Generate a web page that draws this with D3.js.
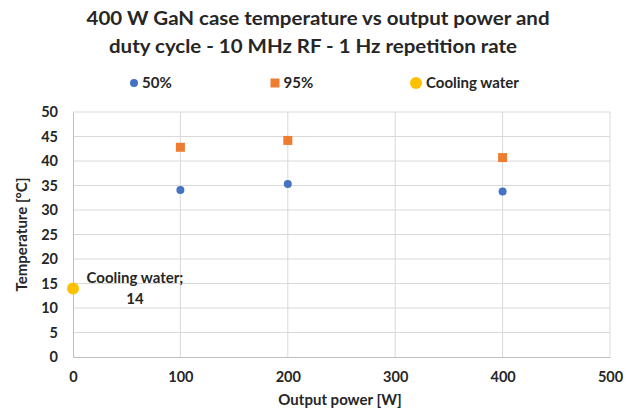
<!DOCTYPE html>
<html>
<head>
<meta charset="utf-8">
<script src="https://cdn.jsdelivr.net/npm/d3@7"></script>
<style>
  body { margin: 0; background: #fff; }
  svg text { font-family: Lato, "Open Sans", sans-serif; fill: #262626; }
</style>
</head>
<body>
<div id="chart"></div>
<script>
// data
const power = [100, 200, 400];
const duty50 = [34.1, 35.3, 33.8];
const duty95 = [42.8, 44.2, 40.7];
const coolingPower = [0];
const coolingTemp = [14];
const xTicks = [0, 100, 200, 300, 400, 500];
const yTicks = [0, 5, 10, 15, 20, 25, 30, 35, 40, 45, 50];
const titleLines = ['400 W GaN case temperature vs output power and',
	'duty cycle - 10 MHz RF - 1 Hz repetition rate'];
const titleWidths = [463, 408];

const width = 632, height = 411;
const margin = {t:112, r:22, b:54, l:73};
const w = width - margin.l - margin.r;
const h = height - margin.t - margin.b;

const svg = d3.select('#chart').append('svg')
	.attr('width', width)
	.attr('height', height);

// title
svg.selectAll('.title')
	.data(titleLines)
	.enter().append('text')
	.attr('class', 'title')
	.attr('x', (d,i) => i ? 313 : 318)
	.attr('y', (d,i) => 25 + i*28)
	.attr('text-anchor', 'middle')
	.attr('textLength', (d,i) => titleWidths[i])
	.attr('lengthAdjust', 'spacingAndGlyphs')
	.style('font-size', '19px')
	.style('font-weight', 'bold')
	.text(d => d);

const scaleX = d3.scaleLinear().domain([0,500]).range([0,w]);
const scaleY = d3.scaleLinear().domain([0,50]).range([h,0]);

const plot = svg.append('g')
	.attr('transform', `translate(${margin.l},${margin.t})`);

// grid
plot.selectAll('.gy')
	.data(yTicks.slice(1))
	.enter().append('line')
	.attr('x1', 0).attr('x2', w)
	.attr('y1', d => scaleY(d)).attr('y2', d => scaleY(d))
	.style('stroke', '#d9d9d9');
plot.selectAll('.gx')
	.data(xTicks.slice(1))
	.enter().append('line')
	.attr('y1', 0).attr('y2', h)
	.attr('x1', d => scaleX(d)).attr('x2', d => scaleX(d))
	.style('stroke', '#d9d9d9');

// axes
const axisX = d3.axisBottom(scaleX).tickValues(xTicks).tickSize(0).tickPadding(15);
const axisY = d3.axisLeft(scaleY).tickValues(yTicks).tickSize(0).tickPadding(15);

const gx = plot.append('g').attr('transform', `translate(0,${h})`).call(axisX);
const gy = plot.append('g').call(axisY);
gx.select('.domain').style('stroke', '#bfbfbf');
gy.select('.domain').style('stroke', '#bfbfbf');
[gx, gy].forEach(g => g.selectAll('text')
	.style('font-size', '14.5px')
	.style('font-weight', 'bold')
	.style('font-family', 'Lato, sans-serif')
	.attr('fill', '#262626'));

// axis titles
svg.append('text')
	.attr('x', 340)
	.attr('y', 405)
	.attr('text-anchor', 'middle')
	.style('font-size', '15px')
	.style('font-weight', 'bold')
	.text('Output power [W]');
svg.append('text')
	.attr('transform', `translate(27,${margin.t + h/2}) rotate(-90)`)
	.attr('text-anchor', 'middle')
	.style('font-size', '15px')
	.style('font-weight', 'bold')
	.text('Temperature [°C]');

// series
plot.selectAll('.s95')
	.data(power.map((p,i) => [p, duty95[i]]))
	.enter().append('rect')
	.attr('x', d => scaleX(d[0]) - 4.5)
	.attr('y', d => scaleY(d[1]) - 4.5)
	.attr('width', 9).attr('height', 9)
	.style('fill', '#ED7D31');

plot.selectAll('.s50')
	.data(power.map((p,i) => [p, duty50[i]]))
	.enter().append('circle')
	.attr('cx', d => scaleX(d[0]))
	.attr('cy', d => scaleY(d[1]))
	.attr('r', 4)
	.style('fill', '#4472C4');

plot.selectAll('.cool')
	.data(coolingPower.map((p,i) => [p, coolingTemp[i]]))
	.enter().append('circle')
	.attr('cx', d => scaleX(d[0]))
	.attr('cy', d => scaleY(d[1]))
	.attr('r', 6)
	.style('fill', '#FFC000');

// data label
const lab = plot.append('text')
	.attr('text-anchor', 'middle')
	.style('font-size', '15px')
	.style('font-weight', 'bold');
lab.append('tspan')
	.attr('x', scaleX(coolingPower[0]) + 62)
	.attr('y', scaleY(coolingTemp[0]) - 5)
	.text('Cooling water;');
lab.append('tspan')
	.attr('x', scaleX(coolingPower[0]) + 62)
	.attr('y', scaleY(coolingTemp[0]) + 16)
	.text(coolingTemp[0]);

// legend
const legend = [
	{name:'50%', x:134, shape:'circle', color:'#4472C4', r:4},
	{name:'95%', x:275, shape:'square', color:'#ED7D31', r:4.5},
	{name:'Cooling water', x:416, shape:'circle', color:'#FFC000', r:6}
];
const lg = svg.selectAll('.lg')
	.data(legend)
	.enter().append('g')
	.attr('transform', d => `translate(${d.x},83)`);
lg.filter(d => d.shape === 'circle').append('circle')
	.attr('r', d => d.r)
	.style('fill', d => d.color);
lg.filter(d => d.shape === 'square').append('rect')
	.attr('x', d => -d.r).attr('y', d => -d.r)
	.attr('width', d => d.r*2).attr('height', d => d.r*2)
	.style('fill', d => d.color);
lg.append('text')
	.attr('x', d => d.r + 4)
	.attr('y', 5)
	.style('font-size', '15px')
	.style('font-weight', 'bold')
	.text(d => d.name);
</script>
</body>
</html>
